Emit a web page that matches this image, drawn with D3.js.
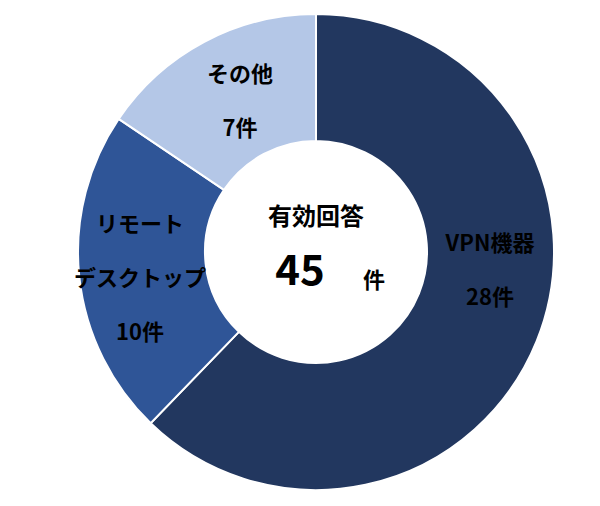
<!DOCTYPE html><html><head><meta charset="utf-8"><script src="https://cdn.jsdelivr.net/npm/d3@7"></script>
<style>body{margin:0;background:#fff}</style></head><body><svg width="600" height="506"></svg><script>
const categories=["VPN機器","リモートデスクトップ","その他"];
const values=[28,10,7];
const colors=["#22375f","#2f5597","#b4c7e7"];
const labelLines=[["VPN機器","28件"],["リモート","デスクトップ","10件"],["その他","7件"]];
const labelPos=[[490,245],[140,226],[240,76]];
const svg=d3.select("svg");const cx=316,cy=252;
const g=svg.append("g").attr("transform",`translate(${cx},${cy})`);
const pie=d3.pie().sort(null)(values);
const arc=d3.arc().innerRadius(111).outerRadius(238);
g.selectAll("path").data(pie).join("path").attr("d",arc).attr("fill",(d,i)=>colors[i]).attr("stroke","#fff").attr("stroke-width",2);
const ff="'Noto Sans CJK JP',sans-serif";
labelLines.forEach((ls,i)=>{ls.forEach((t,j)=>{svg.append("text").attr("x",labelPos[i][0]).attr("y",labelPos[i][1]+j*54).attr("text-anchor","middle").attr("dominant-baseline","middle").attr("font-family",ff).attr("font-weight","bold").attr("font-size",22).attr("fill","#000").text(t);});});
svg.append("text").attr("x",316).attr("y",218).attr("text-anchor","middle").attr("dominant-baseline","middle").attr("font-family",ff).attr("font-weight","bold").attr("font-size",24).text("有効回答");
svg.append("text").attr("x",300).attr("y",274).attr("text-anchor","middle").attr("dominant-baseline","middle").attr("font-family",ff).attr("font-weight","bold").attr("font-size",42).text(d3.sum(values));
svg.append("text").attr("x",374).attr("y",282).attr("text-anchor","middle").attr("dominant-baseline","middle").attr("font-family",ff).attr("font-weight","bold").attr("font-size",22).text("件");
</script></body></html>
